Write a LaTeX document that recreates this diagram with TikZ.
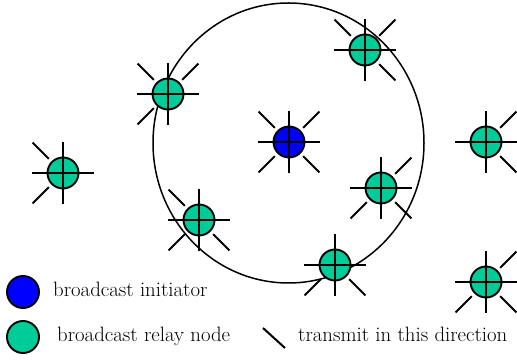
\documentclass[tikz,border=0pt]{standalone}
\usepackage{fontspec}
\usetikzlibrary{calc}
\definecolor{relaygreen}{RGB}{0,204,153}
\definecolor{initblue}{RGB}{0,0,255}
\tikzset{
  station/.style={circle, draw=black, line width=1.9pt, minimum size=31pt, inner sep=0pt},
  ray/.style={draw=black, line width=2pt},
  ring/.style={draw=black, line width=1.5pt},
  legtext/.style={anchor=base west, inner sep=0pt, font=\rmfamily\fontsize{20.8}{25}\selectfont}
}
\newcommand\relaynode[4]{%
  \node[station, fill=#4] (#1) at (#2,#3) {};
  \draw[ray] ([xshift=-31pt]#1.center) -- ([xshift=31pt]#1.center);
  \draw[ray] ([yshift=-31pt]#1.center) -- ([yshift=31pt]#1.center);
}
\newcommand\dirray[2]{%
  \draw[ray] ($(#1.center)+(#2:20pt)$) -- ($(#1.center)+(#2:43pt)$);
}
\begin{document}
\begin{tikzpicture}[x=1pt, y=1pt]
\useasboundingbox (0,0) rectangle (517,361);
% broadcast range
\draw[ring] (288.5,218) ellipse [x radius=135.5pt, y radius=140pt];
% nodes
\relaynode{n1}{168}{267}{relaygreen}
\dirray{n1}{135}\dirray{n1}{45}\dirray{n1}{225}
\relaynode{n2}{289}{219}{initblue}
\dirray{n2}{135}\dirray{n2}{45}\dirray{n2}{225}\dirray{n2}{315}
\relaynode{n3}{63}{188}{relaygreen}
\dirray{n3}{135}\dirray{n3}{225}
\relaynode{n4}{365}{311}{relaygreen}
\dirray{n4}{135}\dirray{n4}{45}\dirray{n4}{315}
\relaynode{n5}{335}{96}{relaygreen}
\dirray{n5}{225}\dirray{n5}{315}
\relaynode{n6}{486}{219}{relaygreen}
\dirray{n6}{45}\dirray{n6}{315}
\relaynode{n7}{381}{173}{relaygreen}
\dirray{n7}{45}\dirray{n7}{225}\dirray{n7}{315}
\relaynode{n8}{199}{141}{relaygreen}
\dirray{n8}{135}\dirray{n8}{225}\dirray{n8}{315}
\relaynode{n9}{486}{79}{relaygreen}
\dirray{n9}{45}\dirray{n9}{225}\dirray{n9}{315}
% legend
\node[station, fill=initblue, minimum size=32pt] (legInit) at (23,69) {};
\node[legtext] (legInitText) at (53,64) {broadcast initiator};
\node[station, fill=relaygreen, minimum size=32pt] (legRelay) at (23,24) {};
\node[legtext] (legRelayText) at (57,19) {broadcast relay node};
\coordinate (legRayA) at (263,33);
\coordinate (legRayB) at (285,13);
\draw[ray] (legRayA) -- (legRayB);
\node[legtext] (legRayText) at (298,19) {transmit in this direction};
\end{tikzpicture}
\end{document}
